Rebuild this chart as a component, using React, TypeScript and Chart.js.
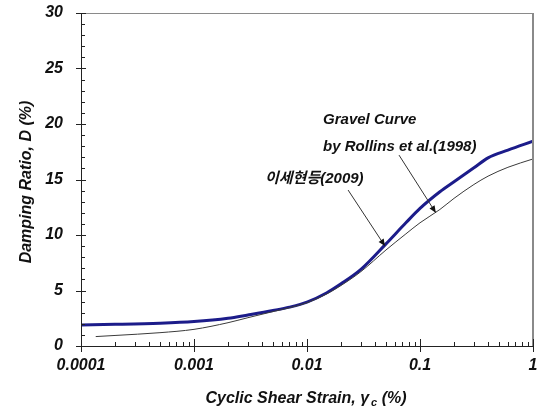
import { useEffect, useRef } from 'react';
import { Chart, registerables } from 'chart.js';

Chart.register(...registerables);

// ---- Data ----
const strainLee = [0.0001, 0.0002, 0.0005, 0.001, 0.002, 0.003, 0.005, 0.007, 0.01, 0.015, 0.02, 0.03, 0.05, 0.075, 0.1, 0.15, 0.2, 0.3, 0.4, 0.6, 1];
const dampingLee = [1.9, 1.95, 2.05, 2.2, 2.5, 2.8, 3.2, 3.5, 3.95, 4.8, 5.6, 6.9, 9.2, 11.1, 12.4, 13.9, 14.8, 16.05, 16.95, 17.65, 18.45];

const strainRollins = [0.000135, 0.0002, 0.0005, 0.001, 0.002, 0.003, 0.005, 0.007, 0.01, 0.015, 0.02, 0.03, 0.05, 0.075, 0.1, 0.15, 0.2, 0.3, 0.4, 0.6, 1];
const dampingRollins = [0.85, 0.95, 1.2, 1.5, 2.1, 2.55, 3.1, 3.45, 3.9, 4.7, 5.45, 6.7, 8.65, 10.1, 11.1, 12.3, 13.3, 14.55, 15.3, 16.1, 16.85];

const xTickValues = [0.0001, 0.001, 0.01, 0.1, 1];
const xTickLabels = ['0.0001', '0.001', '0.01', '0.1', '1'];
const yTickValues = [0, 5, 10, 15, 20, 25, 30];

const yTitle = 'Damping Ratio, D (%)';
const xTitleMain = 'Cyclic Shear Strain, γ';
const xTitleSub = 'c';
const xTitleEnd = ' (%)';

const labelLee = '이세현등(2009)';
const labelRollins1 = 'Gravel Curve';
const labelRollins2 = 'by Rollins et al.(1998)';

// annotation anchors in data coordinates [strain, damping]
const leeLabelAt = [0.00425, 15.1];
const rollins1At = [0.01387, 20.4];
const rollins2At = [0.01387, 17.9];
const leeArrowFrom = [0.0231, 14.05];
const leeArrowTo = [0.049, 9.0];
const rollinsArrowFrom = [0.0652, 17.2];
const rollinsArrowTo = [0.138, 12.0];

const FONT_FAMILY = '"Liberation Sans", Arial, sans-serif';
const TICK_FONT = `italic bold 16px ${FONT_FAMILY}`;

const decorPlugin = {
  id: 'decor',
  afterDraw(chart: any) {
    const ctx = chart.ctx as CanvasRenderingContext2D;
    const xs = chart.scales.x;
    const ys = chart.scales.y;
    const { left, right, top, bottom } = chart.chartArea;
    ctx.save();

    // frame
    ctx.strokeStyle = '#8a8a8a';
    ctx.lineWidth = 1;
    ctx.beginPath();
    ctx.moveTo(left, top + 0.5);
    ctx.lineTo(right, top + 0.5);
    ctx.stroke();
    ctx.lineWidth = 2;
    ctx.beginPath();
    ctx.moveTo(right, top);
    ctx.lineTo(right, bottom);
    ctx.stroke();

    ctx.strokeStyle = '#222';
    ctx.lineWidth = 1;
    ctx.beginPath();
    ctx.moveTo(left + 0.5, top);
    ctx.lineTo(left + 0.5, bottom + 1);
    ctx.moveTo(left, bottom + 0.5);
    ctx.lineTo(right, bottom + 0.5);
    ctx.stroke();

    // y ticks
    ctx.beginPath();
    for (let v = 0; v <= 30; v++) {
      const y = Math.round(ys.getPixelForValue(v)) + 0.5;
      if (v % 5 === 0) {
        ctx.moveTo(left - 5, y);
        ctx.lineTo(left + 5, y);
      } else {
        ctx.moveTo(left, y);
        ctx.lineTo(left + 4, y);
      }
    }
    // x ticks
    for (let d = 0; d < xTickValues.length; d++) {
      const base = xTickValues[d];
      const x = Math.round(xs.getPixelForValue(base)) + 0.5;
      ctx.moveTo(x, bottom - 7);
      ctx.lineTo(x, bottom + 6);
      if (d < xTickValues.length - 1) {
        for (let m = 2; m <= 9; m++) {
          const xm = Math.round(xs.getPixelForValue(base * m)) + 0.5;
          ctx.moveTo(xm, bottom - 4);
          ctx.lineTo(xm, bottom);
        }
      }
    }
    ctx.stroke();

    // axis titles
    ctx.fillStyle = '#111';
    ctx.font = TICK_FONT;
    ctx.save();
    ctx.translate(27, 182);
    ctx.rotate(-Math.PI / 2);
    ctx.textAlign = 'center';
    ctx.textBaseline = 'middle';
    ctx.fillText(yTitle, 0, 0);
    ctx.restore();

    ctx.textAlign = 'left';
    ctx.textBaseline = 'alphabetic';
    const mainFont = TICK_FONT;
    const subFont = `italic bold 11px ${FONT_FAMILY}`;
    ctx.font = mainFont;
    const w1 = ctx.measureText(xTitleMain).width;
    const w3 = ctx.measureText(xTitleEnd).width;
    ctx.font = subFont;
    const w2 = ctx.measureText(xTitleSub).width + 2;
    const total = w1 + w2 + w3;
    let tx = 306 - total / 2;
    ctx.font = mainFont;
    ctx.fillText(xTitleMain, tx, 403);
    tx += w1 + 2;
    ctx.font = subFont;
    ctx.fillText(xTitleSub, tx, 406);
    tx += w2 - 2;
    ctx.font = mainFont;
    ctx.fillText(xTitleEnd, tx, 403);

    // annotations
    const px = (p: number[]) => [xs.getPixelForValue(p[0]), ys.getPixelForValue(p[1])];
    ctx.font = `italic bold 15px ${FONT_FAMILY}`;
    ctx.textBaseline = 'middle';
    ctx.fillStyle = '#111';
    let p = px(rollins1At);
    ctx.fillText(labelRollins1, p[0], p[1]);
    p = px(rollins2At);
    ctx.fillText(labelRollins2, p[0], p[1]);
    ctx.font = `italic bold 15px ${FONT_FAMILY}, "Noto Sans CJK KR"`;
    p = px(leeLabelAt);
    ctx.fillText(labelLee, p[0], p[1]);

    const arrow = (a: number[], b: number[]) => {
      const [x1, y1] = px(a);
      const [x2, y2] = px(b);
      const ang = Math.atan2(y2 - y1, x2 - x1);
      ctx.strokeStyle = '#333';
      ctx.lineWidth = 1;
      ctx.beginPath();
      ctx.moveTo(x1, y1);
      ctx.lineTo(x2, y2);
      ctx.stroke();
      const L = 7, W = 3;
      ctx.fillStyle = '#111';
      ctx.beginPath();
      ctx.moveTo(x2, y2);
      ctx.lineTo(x2 - L * Math.cos(ang) + W * Math.sin(ang), y2 - L * Math.sin(ang) - W * Math.cos(ang));
      ctx.lineTo(x2 - L * Math.cos(ang) - W * Math.sin(ang), y2 - L * Math.sin(ang) + W * Math.cos(ang));
      ctx.closePath();
      ctx.fill();
    };
    arrow(rollinsArrowFrom, rollinsArrowTo);
    arrow(leeArrowFrom, leeArrowTo);

    ctx.restore();
  },
};

export default function App() {
  const canvasRef = useRef<HTMLCanvasElement | null>(null);

  useEffect(() => {
    document.body.style.margin = '0';
    const canvas = canvasRef.current;
    if (!canvas) return;
    const chart = new Chart(canvas, {
      type: 'line',
      data: {
        datasets: [
          {
            label: 'Rollins et al. (1998)',
            data: strainRollins.map((x, i) => ({ x, y: dampingRollins[i] })),
            borderColor: '#3a3a3a',
            borderWidth: 1,
            pointRadius: 0,
            cubicInterpolationMode: 'monotone',
            fill: false,
          },
          {
            label: '이세현등(2009)',
            data: strainLee.map((x, i) => ({ x, y: dampingLee[i] })),
            borderColor: '#1c1c8a',
            borderWidth: 3,
            pointRadius: 0,
            cubicInterpolationMode: 'monotone',
            fill: false,
          },
        ],
      },
      options: {
        animation: false,
        responsive: false,
        devicePixelRatio: 1,
        layout: { padding: { top: 13, right: 7, left: 0, bottom: 0 } },
        plugins: {
          legend: { display: false },
          tooltip: { enabled: false },
        },
        scales: {
          x: {
            type: 'logarithmic',
            min: 0.0001,
            max: 1,
            border: { display: false },
            grid: { display: false, drawTicks: false },
            afterBuildTicks: (scale: any) => {
              scale.ticks = xTickValues.map((v) => ({ value: v }));
            },
            afterFit: (scale: any) => {
              scale.height = 66;
              scale.paddingLeft = 0;
              scale.paddingRight = 0;
              scale.paddingTop = 0;
              scale.paddingBottom = 0;
            },
            ticks: {
              autoSkip: false,
              maxRotation: 0,
              padding: 10,
              color: '#111',
              font: { family: FONT_FAMILY, size: 16, style: 'italic', weight: 'bold' },
              callback: (value: any) => {
                const i = xTickValues.findIndex((v) => Math.abs(v - Number(value)) / v < 1e-6);
                return i >= 0 ? xTickLabels[i] : '';
              },
            },
          },
          y: {
            type: 'linear',
            min: 0,
            max: 30,
            border: { display: false },
            grid: { display: false, drawTicks: false },
            afterBuildTicks: (scale: any) => {
              scale.ticks = yTickValues.map((v) => ({ value: v }));
            },
            afterFit: (scale: any) => {
              scale.width = 81;
              scale.paddingLeft = 0;
              scale.paddingRight = 0;
              scale.paddingTop = 0;
              scale.paddingBottom = 0;
            },
            ticks: {
              padding: 18,
              color: '#111',
              font: { family: FONT_FAMILY, size: 16, style: 'italic', weight: 'bold' },
            },
          },
        },
      } as any,
      plugins: [decorPlugin],
    });
    return () => chart.destroy();
  }, []);

  return (
    <div style={{ width: 540, height: 412, background: '#fff' }}>
      <canvas ref={canvasRef} width={540} height={412} style={{ display: 'block' }} />
    </div>
  );
}
